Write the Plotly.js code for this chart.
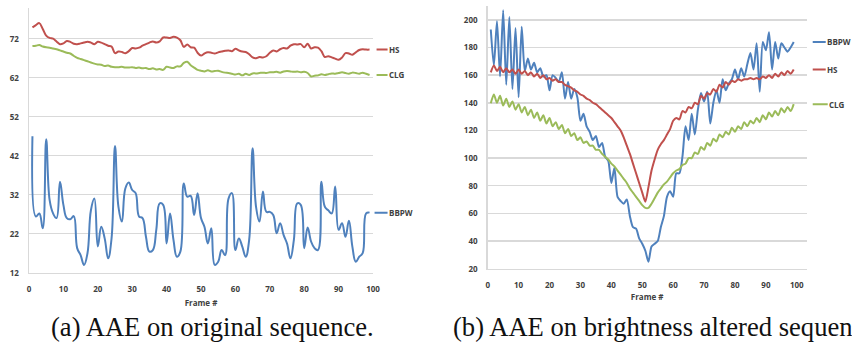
<!DOCTYPE html>
<html>
<head>
<meta charset="utf-8">
<script src="https://cdn.plot.ly/plotly-3.0.1.min.js"></script>
<style>html,body{margin:0;padding:0;background:#fff;}#chart{width:852px;height:345px;}</style>
</head>
<body>
<div id="chart"></div>
<script>
const frames = [1,2,3,4,5,6,7,8,9,10,11,12,13,14,15,16,17,18,19,20,21,22,23,24,25,26,27,28,29,30,31,32,33,34,35,36,37,38,39,40,41,42,43,44,45,46,47,48,49,50,51,52,53,54,55,56,57,58,59,60,61,62,63,64,65,66,67,68,69,70,71,72,73,74,75,76,77,78,79,80,81,82,83,84,85,86,87,88,89,90,91,92,93,94,95,96,97,98,99];

// (a) original sequence
const origHS = [74.9,75.5,76.0,74.5,72.8,72.2,72.0,71.3,70.6,70.8,
  71.4,71.2,70.7,70.6,70.8,71.0,71.2,71.0,70.6,71.2,
  71.0,70.6,70.2,70.0,68.3,68.7,68.6,68.3,68.8,69.6,
  69.5,69.7,70.2,70.6,71.0,71.3,71.0,71.3,72.3,72.3,
  72.2,72.5,72.3,71.6,69.9,70.5,69.8,69.7,68.4,67.7,
  68.2,68.5,68.4,68.2,68.5,68.7,68.9,69.0,68.8,69.4,
  69.0,68.7,68.6,68.0,67.2,67.0,67.3,67.2,67.5,68.4,
  69.0,68.7,69.3,69.6,69.5,70.2,70.6,70.5,70.6,69.8,
  70.7,69.5,69.8,69.7,68.8,67.3,67.5,67.2,66.9,66.6,
  67.2,68.3,68.2,67.9,68.5,69.1,69.3,69.2,69.2];
const origCLG = [70.1,70.2,70.4,70.0,69.8,69.7,69.5,69.3,69.0,68.7,
  68.4,68.2,67.6,67.1,66.8,66.5,66.2,65.9,65.6,65.4,
  65.3,65.0,65.1,64.8,64.7,64.7,64.8,64.6,64.6,64.7,
  64.5,64.6,64.4,64.5,64.2,64.4,64.1,64.2,64.0,64.8,
  64.6,64.5,64.9,64.9,65.8,66.1,65.2,64.6,64.0,63.8,
  63.6,63.9,63.6,63.7,63.8,63.5,63.3,63.2,63.0,62.8,
  63.0,62.6,63.0,62.7,63.1,63.1,63.2,63.3,63.2,63.4,
  63.4,63.5,63.3,63.6,63.7,63.6,63.5,63.6,63.4,63.5,
  63.2,62.3,62.5,62.6,62.9,62.7,62.9,63.1,63.0,63.2,
  63.4,63.2,63.0,63.3,63.2,63.0,63.3,63.0,62.7];
const origBBPW = [47.0,26.4,27.2,23.4,46.2,30.6,27.2,26.0,35.3,29.4,
  26.0,25.7,26.5,18.3,16.5,14.0,17.0,28.0,31.0,18.7,
  23.8,20.8,15.7,20.8,44.5,28.9,25.1,33.6,35.1,33.2,
  32.4,26.4,26.0,21.2,17.4,17.8,23.0,29.8,29.4,19.5,
  27.2,20.4,16.1,17.4,34.9,31.5,31.7,26.8,32.4,26.0,
  23.8,19.5,23.4,14.0,14.8,17.8,16.5,31.0,32.4,17.8,
  20.8,18.7,16.1,20.4,43.9,28.9,25.1,32.8,27.6,27.6,
  26.8,22.1,24.7,21.7,19.5,15.7,20.4,29.8,29.4,18.3,
  23.6,20.0,18.3,17.8,35.3,28.9,28.0,27.2,34.1,23.0,
  24.7,21.2,25.3,18.7,14.8,16.1,17.0,27.2,27.4];

// (b) brightness altered sequence
const brBBPW = [193,167,199,159,207,153,202,150,194,144,
  195,163,172,164,169,162,165,159,160,149,
  160,158,155,162,143,155,143,150,144,127,
  132,123,119,113,116,108,111,101,98,82,
  93,72,69,67,70,58,50,49,42,38,
  33,25,36,38,40,50,58,72,76,72,
  89,89,101,123,113,132,117,135,147,141,
  148,125,140,149,140,157,149,154,157,164,
  157,165,159,168,176,164,183,148,184,178,
  191,164,184,172,183,180,177,180,184];
const brHS = [162,167,163,166,162,165,162,164,161,164,
  161,163,160,162,159,161,158,160,157,158,
  156,157,155,155,153,152,151,149,148,146,
  145,143,142,140,139,137,135,133,131,129,
  126,123,120,115,109,103,96,89,82,75,
  68.5,79,91,99,106,110,113,117,121,127,
  129,128,134,133,137,136,140,139,145,143,
  147,146,150,148,153,151,155,153,156,155,
  157,156,157,157,158,157,158,157,159,158,
  160,158,161,159,162,160,163,161,164];
const brCLG = [139.6,146,140,145,138,143,137,141,135,139,
  133,137,131,135,129,133,127,131,125,129,
  123,126,121,124,118,121,116,118,113,115,
  111,112,109,109,106,106,103,101,99,96,
  94,91,88,85,82,78,75,72,69,66,
  64,64,67,71,75,78,81,83,86,89,
  91,92,95,96,100,100,104,103,108,106,
  111,109,114,112,117,115,119,117,122,119,
  123,121,126,123,127,125,129,126,131,128,
  133,130,134,131,136,133,137,134,139];

const leftTicksY = [12,22,32,42,52,62,72];
const rightTicksY = [20,40,60,80,100,120,140,160,180,200];
const ticksX = [0,10,20,30,40,50,60,70,80,90,100];

const BLUE = '#4f81bd', RED = '#c0504d', GREEN = '#9bbb59';
const GRID = '#d9d9d9', TXT = '#404040';

function tr(y, name, color, xa, ya, sm) {
  return {x: frames, y: y, name: name, type: 'scatter', mode: 'lines',
    line: {color: color, width: 2, shape: 'spline', smoothing: sm},
    xaxis: xa, yaxis: ya, showlegend: false, hoverinfo: 'skip'};
}

const data = [
  tr(origHS, 'HS', RED, 'x', 'y', 1.0),
  tr(origCLG, 'CLG', GREEN, 'x', 'y', 1.0),
  tr(origBBPW, 'BBPW', BLUE, 'x', 'y', 1.2),
  tr(brBBPW, 'BBPW', BLUE, 'x2', 'y2', 0.7),
  tr(brHS, 'HS', RED, 'x2', 'y2', 0.7),
  tr(brCLG, 'CLG', GREEN, 'x2', 'y2', 0.7)
];

const tickFont = {family: 'Open Sans, Arial, sans-serif', size: 8, color: TXT, weight: 700};

function xax(domain, range, anchor, standoff) {
  return {domain: domain, range: range, anchor: anchor, tickvals: ticksX, ticktext: ticksX.map(String),
    showgrid: false, zeroline: false, showline: true, linecolor: GRID, linewidth: 1.5,
    ticks: '', ticklabelstandoff: 8, tickfont: tickFont, fixedrange: true,
    title: {text: 'Frame #', font: {family: 'Open Sans, Arial, sans-serif', size: 8, color: TXT, weight: 700}, standoff: standoff}};
}
function yax(domain, range, anchor, tv) {
  return {domain: domain, range: range, anchor: anchor, tickvals: tv, ticktext: tv.map(String),
    showgrid: true, gridcolor: GRID, gridwidth: 1.5, zeroline: false, showline: true, linecolor: GRID, linewidth: 1.5,
    ticks: '', ticklabelstandoff: 7, tickfont: tickFont, fixedrange: true};
}

function lab(name, arr, color, xa, ya, ax, standoff) {
  return {x: frames[frames.length-1], y: arr[arr.length-1], xref: xa, yref: ya,
    text: name, showarrow: true, arrowhead: 0, arrowwidth: 2, arrowcolor: color,
    ax: ax, ay: 0, axref: 'pixel', ayref: 'pixel', xanchor: 'left', yanchor: 'middle',
    standoff: standoff, borderpad: 0,
    font: {family: 'Open Sans, Arial, sans-serif', size: 8, color: TXT, weight: 700}};
}

const capFont = {family: 'Liberation Serif, Times New Roman, serif', size: 26.6, color: '#111'};

const layout = {
  width: 852, height: 345, margin: {l: 0, r: 0, t: 0, b: 0},
  paper_bgcolor: '#fff', plot_bgcolor: '#fff', showlegend: false,
  xaxis: xax([29/852, 373/852], [0, 100], 'y', 7),
  yaxis: yax([1-272.7/345, 1-7.5/345], [12, 80], 'x', leftTicksY),
  xaxis2: xax([487.7/852, 806.7/852], [0, 103.2], 'y2', 5),
  yaxis2: yax([1-268.7/345, 1-6/345], [20, 210], 'x2', rightTicksY),
  annotations: [
    lab('HS', origHS, RED, 'x', 'y', 18, 7),
    lab('CLG', origCLG, GREEN, 'x', 'y', 18, 7),
    lab('BBPW', origBBPW, BLUE, 'x', 'y', 18, 5),
    lab('BBPW', brBBPW, BLUE, 'x2', 'y2', 32, 19),
    lab('HS', brHS, RED, 'x2', 'y2', 32, 19),
    lab('CLG', brCLG, GREEN, 'x2', 'y2', 34, 19),
    {xref: 'paper', yref: 'paper', x: 49/852, y: 1-327/345, xanchor: 'left', yanchor: 'middle',
     text: '(a) AAE on original sequence.', showarrow: false, font: capFont},
    {xref: 'paper', yref: 'paper', x: 451/852, y: 1-327/345, xanchor: 'left', yanchor: 'middle',
     text: '(b) AAE on brightness altered sequence.', showarrow: false, font: capFont}
  ]
};

Plotly.newPlot('chart', data, layout, {staticPlot: true, displayModeBar: false});
</script>
</body>
</html>
